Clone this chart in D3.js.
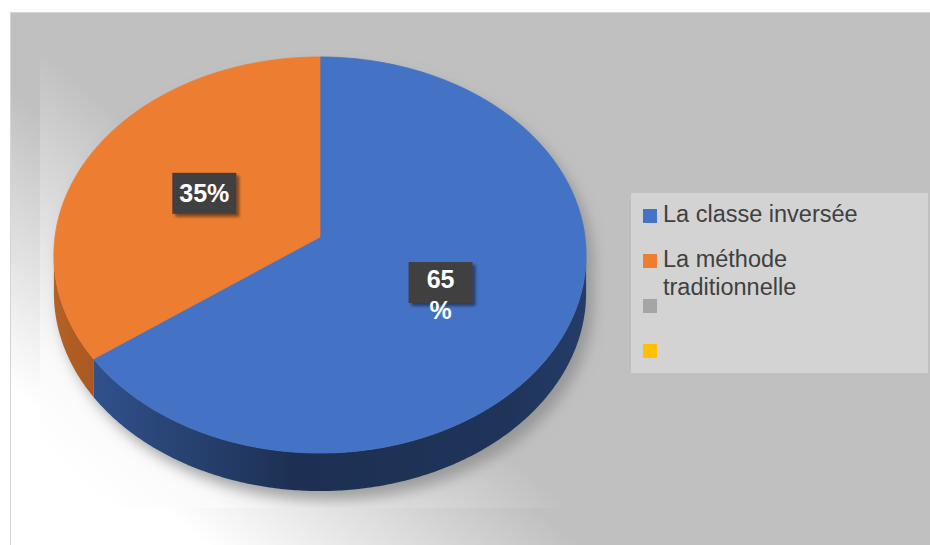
<!DOCTYPE html>
<html lang="fr">
<head>
<meta charset="utf-8">
<title>pie 3d</title>
<script src="https://d3js.org/d3.v7.min.js"></script>
<style>
  html, body { margin: 0; padding: 0; background: #fff; }
  svg text { font-family: "Liberation Sans", Arial, sans-serif; }
</style>
</head>
<body>
<svg id="chart"></svg>
<script>
// data ---------------------------------
const categories = ["La classe inversée", "La méthode traditionnelle", "", ""]
const values = [65, 35, 0, 0]
const colors = ["#4472c4", "#ed7d31", "#a5a5a5", "#ffc000"]
const legendLines = [["La classe inversée"], ["La méthode", "traditionnelle"], [""], [""]]
const labelLines = [["65", "%"], ["35%"]]

// layout -------------------------------
let w = 930, h = 545
let cx = 320, cy = 237, rx = 265, ry = 196.4, k = 0.0909, depth = 38

let svg = d3.select("#chart").attr("width", w).attr("height", h)
let defs = svg.append("defs")

// chart area gradient
let g1 = defs.append("linearGradient").attr("id", "bgGrad")
  .attr("gradientUnits", "userSpaceOnUse")
  .attr("x1", 25).attr("y1", 400).attr("x2", 171).attr("y2", 217)
g1.append("stop").attr("offset", 0).attr("stop-color", "#ffffff")
g1.append("stop").attr("offset", 1).attr("stop-color", "#c0c0c0")

// plot area gradient (white in the lower left only)
let g2 = defs.append("linearGradient").attr("id", "plotGrad")
  .attr("gradientUnits", "userSpaceOnUse")
  .attr("x1", 50).attr("y1", 460).attr("x2", 250).attr("y2", 230)
g2.append("stop").attr("offset", 0).attr("stop-color", "#ffffff")
g2.append("stop").attr("offset", 0.25).attr("stop-color", "#fafafa")
g2.append("stop").attr("offset", 1).attr("stop-color", "#c0c0c0")

let blur = defs.append("filter").attr("id", "pieShadow")
  .attr("x", "-20%").attr("y", "-20%").attr("width", "140%").attr("height", "140%")
blur.append("feGaussianBlur").attr("stdDeviation", 7)

let lblShadow = defs.append("filter").attr("id", "lblShadow")
  .attr("x", "-30%").attr("y", "-30%").attr("width", "160%").attr("height", "160%")
lblShadow.append("feDropShadow").attr("dx", 3).attr("dy", 3).attr("stdDeviation", 1.5)
  .attr("flood-color", "#000").attr("flood-opacity", 0.45)

defs.append("clipPath").attr("id", "plotClip")
  .append("rect").attr("x", 40).attr("y", 30).attr("width", 565).attr("height", 478)

// background
svg.append("rect").attr("x", 10.5).attr("y", 12.5).attr("width", 930).attr("height", 540)
  .attr("fill", "url(#bgGrad)").attr("stroke", "#d4d4d4")
svg.append("rect").attr("x", 40).attr("y", 30).attr("width", 565).attr("height", 478)
  .attr("fill", "url(#plotGrad)")

// projection of a point of the unit disk onto the tilted pie
function proj(theta, r, dz) {
  let u = r * Math.sin(theta), v = -r * Math.cos(theta)
  let s = 1 / (1 - k * v)
  return [cx + rx * u * s, cy + ry * v * s + dz]
}
function rim(a0, a1, dz) {
  let n = Math.max(2, Math.ceil(Math.abs(a1 - a0) / 0.01))
  return d3.range(n + 1).map(i => proj(a0 + (a1 - a0) * i / n, 1, dz))
}
let line = d3.line()

let pie = d3.pie().sort(null).value(d => d)
let arcs = pie(values).map((a, i) => Object.assign(a, { i: i })).filter(a => a.value > 0)

// shadow
let visA = Math.acos(-k), visB = 2 * Math.PI - visA
let silhouette = rim(0, 2 * Math.PI, 0)
let sidePts = rim(visA, visB, 0).concat(rim(visA, visB, depth).reverse())
let shadowG = svg.append("g").attr("clip-path", "url(#plotClip)")
  .append("g").attr("filter", "url(#pieShadow)").attr("transform", "translate(7,9)")
shadowG.append("path").attr("d", line(silhouette) + "Z").attr("fill", "#8a8a8a").attr("opacity", 0.75)
shadowG.append("path").attr("d", line(sidePts) + "Z").attr("fill", "#8a8a8a").attr("opacity", 0.75)

// sides
let sideG = svg.append("g")
arcs.forEach(a => {
  let b0 = Math.max(a.startAngle, visA), b1 = Math.min(a.endAngle, visB)
  if (b1 <= b0) return
  let base = d3.color(colors[a.i])
  let gid = "side" + a.i
  let sg = defs.append("linearGradient").attr("id", gid)
    .attr("gradientUnits", "userSpaceOnUse")
    .attr("x1", cx - rx).attr("y1", 0).attr("x2", cx + rx).attr("y2", 0)
  sg.append("stop").attr("offset", 0).attr("stop-color", base.darker(0.75))
  sg.append("stop").attr("offset", 0.12).attr("stop-color", base.darker(1.1))
  sg.append("stop").attr("offset", 0.45).attr("stop-color", base.darker(2.4))
  sg.append("stop").attr("offset", 0.85).attr("stop-color", base.darker(2.2))
  sg.append("stop").attr("offset", 1).attr("stop-color", base.darker(1.8))
  let pts = rim(b0, b1, 0).concat(rim(b0, b1, depth).reverse())
  sideG.append("path").attr("d", line(pts) + "Z").attr("fill", "url(#" + gid + ")")
})

// top faces
svg.append("g").selectAll("path")
  .data(arcs)
  .join("path")
  .attr("d", a => line([proj(0, 0, 0)].concat(rim(a.startAngle, a.endAngle, 0))) + "Z")
  .attr("fill", a => colors[a.i])
  .attr("stroke", a => colors[a.i])
  .attr("stroke-width", 0.8)

// labels
let lblG = svg.append("g")
arcs.forEach(a => {
  let mid = (a.startAngle + a.endAngle) / 2
  let p = proj(mid, 0.5, 0)
  let lines = labelLines[a.i]
  let g = lblG.append("g").attr("transform", "translate(" + p[0] + "," + p[1] + ")")
  g.append("rect").attr("x", -32).attr("y", -20.5).attr("width", 64).attr("height", 41)
    .attr("fill", "#404040").attr("filter", "url(#lblShadow)")
  let first = lines.length > 1 ? 5 : 9
  lines.forEach((t, li) => {
    g.append("text").attr("x", 0).attr("y", first + li * 31)
      .attr("text-anchor", "middle").attr("font-size", 25).attr("font-weight", "bold")
      .attr("fill", "#ffffff").text(t)
  })
})

// legend
let legend = svg.append("g")
legend.append("rect").attr("x", 631).attr("y", 193).attr("width", 297).attr("height", 180)
  .attr("fill", "#d3d3d3")
let ly = d3.scaleLinear().domain([0, 1]).range([209, 254])
categories.forEach((c, i) => {
  legend.append("rect").attr("x", 643).attr("y", ly(i)).attr("width", 14).attr("height", 14)
    .attr("fill", colors[i])
  legendLines[i].forEach((t, li) => {
    legend.append("text").attr("x", 663).attr("y", ly(i) + 13 + li * 28)
      .attr("font-size", 23.5).attr("fill", "#404040").text(t)
  })
})
</script>
</body>
</html>
